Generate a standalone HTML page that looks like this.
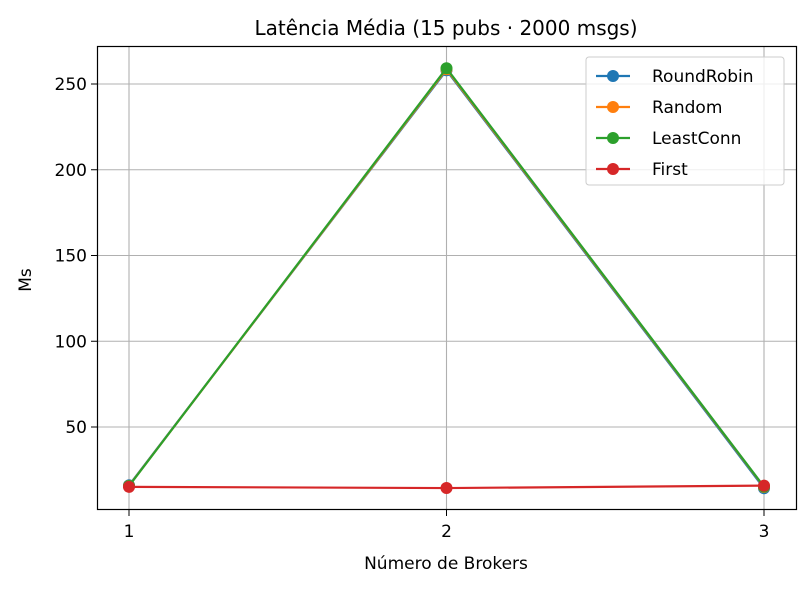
<!DOCTYPE html>
<html><head><meta charset="utf-8"><style>
body{margin:0;background:#fff;font-family:"Liberation Sans","DejaVu Sans",sans-serif;}
svg text{font-family:"DejaVu Sans","Liberation Sans",sans-serif;}
</style></head><body>
<svg id="chart" width="810" height="587">
<rect width="810" height="587" fill="#fff"/>
<g id="grid"></g>
<g id="series"></g>
<rect x="97.5" y="46.5" width="699" height="463" fill="none" stroke="#000" stroke-width="1.2"/>
<g id="ticks"></g>
<text x="446" y="35" font-size="20" text-anchor="middle">Latência Média (15 pubs · 2000 msgs)</text>
<text x="446" y="569" font-size="17" text-anchor="middle">Número de Brokers</text>
<text x="31" y="280" font-size="17" text-anchor="middle" transform="rotate(-90 31 280)">Ms</text>
<g id="legend"></g>
</svg>
<script>
const categories=[1,2,3];
const yTicks=[50,100,150,200,250];
const seriesNames=["RoundRobin","Random","LeastConn","First"];
const roundRobin=[16,258,14.3];
const random=[15.7,258.6,15];
const leastConn=[15.6,259.2,15.2];
const first=[15.1,14.4,15.8];
const colors=["#1f77b4","#ff7f0e","#2ca02c","#d62728"];
const allSeries=[roundRobin,random,leastConn,first];
const NS="http://www.w3.org/2000/svg";
const xS=v=>129+(v-1)*317.5;
const yS=v=>512.75-v*1.715;
function mk(t,a,p){const e=document.createElementNS(NS,t);for(const k in a)e.setAttribute(k,a[k]);p.appendChild(e);return e;}
const grid=document.getElementById('grid'),ticks=document.getElementById('ticks');
categories.forEach(c=>{
 const g=mk('line',{x1:xS(c),x2:xS(c),y1:47,y2:509,stroke:'#b0b0b0','stroke-width':1.1},grid);
 
 
 mk('line',{x1:xS(c),x2:xS(c),y1:510,y2:516,stroke:'#000'},ticks);
 const t=mk('text',{x:xS(c),y:537,'font-size':17,'text-anchor':'middle'},ticks);t.textContent=c;
 
 
});
yTicks.forEach(v=>{
 const g=mk('line',{x1:98,x2:796,y1:yS(v),y2:yS(v),stroke:'#b0b0b0','stroke-width':1.1},grid);
 
 
 mk('line',{x1:91,x2:97,y1:yS(v),y2:yS(v),stroke:'#000'},ticks);
 const t=mk('text',{x:87,y:yS(v)+6,'font-size':17,'text-anchor':'end'},ticks);t.textContent=v;
 
 
});
const sg=document.getElementById('series');
allSeries.forEach((s,i)=>{
 const g=mk('g',{},sg);
 
 
 mk('polyline',{points:s.map((v,j)=>xS(categories[j])+','+yS(v)).join(' '),fill:'none',stroke:colors[i],'stroke-width':2.2},g);
 s.forEach((v,j)=>{const c=mk('circle',{cx:xS(categories[j]),cy:yS(v),r:6,fill:colors[i]},g);
  
  });
});
const lg=document.getElementById('legend');
const box=mk('rect',{x:586,y:57,width:198,height:128,rx:3,fill:'#fff','fill-opacity':0.8,stroke:'#ccc'},lg);


seriesNames.forEach((n,i)=>{
 const y=76+i*31;
 const g=mk('g',{},lg);
 
 
 mk('line',{x1:596,x2:630,y1:y,y2:y,stroke:colors[i],'stroke-width':2.2},g);
 mk('circle',{cx:613,cy:y,r:6,fill:colors[i]},g);
 const t=mk('text',{x:652,y:y+6,'font-size':17},g);t.textContent=n;
});
</script>
</body></html>
